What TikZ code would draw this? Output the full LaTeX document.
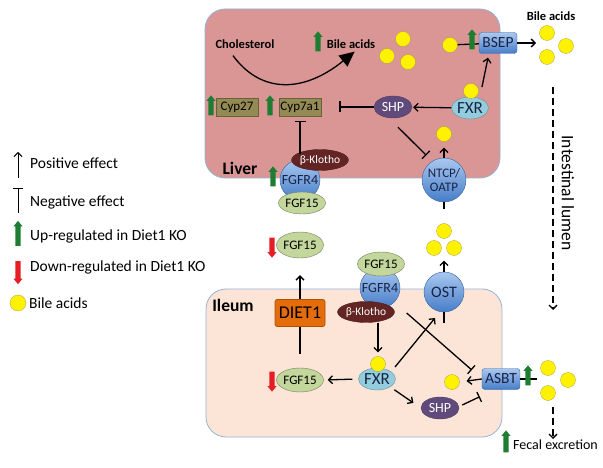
\documentclass[tikz,border=0pt]{standalone}
\usepackage{fontspec}
\setmainfont{Carlito}
\usetikzlibrary{shapes.geometric,shapes.arrows,arrows.meta}
\definecolor{liverc}{RGB}{217,150,148}
\definecolor{ileumc}{RGB}{252,229,214}
\definecolor{edgec}{RGB}{149,179,215}
\definecolor{cypc}{RGB}{148,138,84}
\definecolor{fxrc}{RGB}{147,205,221}
\definecolor{shpc}{RGB}{96,74,123}
\definecolor{klc}{RGB}{99,37,35}
\definecolor{fgfc}{RGB}{195,214,155}
\definecolor{dietc}{RGB}{228,108,10}
\definecolor{upc}{RGB}{30,125,50}
\definecolor{downc}{RGB}{228,30,36}
\definecolor{recc}{RGB}{70,125,200}
\definecolor{recl}{RGB}{170,200,240}
\definecolor{txtc}{RGB}{25,35,70}
\tikzset{
  organ/.style={draw=edgec, line width=0.8pt, rounded corners=20pt, inner sep=0pt},
  act/.style={-{Straight Barb[length=4pt,width=8pt]}, line width=1.3pt},
  inh/.style={-{Bar[width=11pt]}, line width=1.3pt},
  plain/.style={line width=1.3pt},
  lumen/.style={-{Straight Barb[length=4pt,width=8pt]}, line width=1.3pt, dash pattern=on 7pt off 4pt},
  uparr/.style={single arrow, shape border rotate=90, fill=upc, minimum height=20pt, inner sep=2.5pt, single arrow head extend=2pt, single arrow tip angle=80},
  downarr/.style={uparr, fill=downc, shape border rotate=270},
  bile/.style={circle, fill=yellow, draw=yellow!60!black, line width=0.3pt, minimum size=15pt, inner sep=0pt},
  rec/.style={circle, top color=recl, bottom color=recc, draw=recc!80!black, line width=0.4pt, inner sep=0pt, text=txtc, font=\fontsize{14}{15}\selectfont},
  recbox/.style={rectangle, rounded corners=3pt, top color=recl, bottom color=recc, draw=recc!80!black, line width=0.4pt, minimum width=38pt, minimum height=21pt, inner sep=0pt, text=txtc, font=\fontsize{15.5}{16}\selectfont},
  fxr/.style={ellipse, fill=fxrc, draw=fxrc!70!black, line width=0.4pt, minimum width=37pt, minimum height=22pt, inner sep=0pt, text=txtc, font=\fontsize{17}{18}\selectfont},
  shp/.style={ellipse, fill=shpc, draw=shpc!80!black, line width=0.4pt, minimum width=38pt, minimum height=22pt, inner sep=0pt, text=white, font=\fontsize{14}{15}\selectfont},
  kl/.style={ellipse, fill=klc, draw=klc!80!black, line width=0.4pt, minimum width=47pt, minimum height=21pt, inner sep=0pt, text=white, font=\fontsize{11.5}{12}\selectfont},
  fgf/.style={ellipse, fill=fgfc, draw=fgfc!60!black, line width=0.4pt, minimum width=41pt, minimum height=24pt, inner sep=0pt, font=\fontsize{13}{14}\selectfont},
  cyp/.style={rectangle, fill=cypc, draw=cypc!70!black, line width=0.4pt, minimum width=42pt, minimum height=18pt, inner sep=0pt, font=\fontsize{13}{14}\selectfont},
  dietbox/.style={rectangle, rounded corners=2pt, fill=dietc, draw=dietc!75!black, line width=0.6pt, minimum width=50pt, minimum height=27pt, inner sep=0pt, font=\fontsize{18}{19}\selectfont},
  lbl/.style={anchor=west, inner sep=0pt, font=\fontsize{15.5}{16}\selectfont},
  bold/.style={inner sep=0pt, font=\fontsize{12.5}{14}\selectfont\bfseries},
  organlbl/.style={inner sep=0pt, font=\fontsize{17.5}{18}\selectfont\bfseries}
}
\begin{document}
\begin{tikzpicture}[x=1pt,y=-1pt]
\useasboundingbox (0,0) rectangle (603,468);
\node[organ, fill=liverc, minimum width=295pt, minimum height=169pt] (liver) at (352.5,93.5) {};
\node[organ, fill=ileumc, minimum width=296pt, minimum height=148pt] (ileum) at (354,363) {};
\node[organlbl] at (240,168) {Liver};
\node[organlbl] at (233,305) {Ileum};

\node[bold] (chol) at (245,44) {Cholesterol};
\node[uparr] at (318,43) {};
\node[bold] (baL) at (351,44) {Bile acids};
\draw[line width=1.3pt, -{Triangle[length=15pt,width=14pt]}] ([shift={(-12,7)}]chol.south) .. controls (262,95) and (305,92) .. ([shift={(28,3)}]baL.south west);
\node[bile] (b1) at (403,39) {};
\node[bile] (b2) at (387,56) {};
\node[bile] (b3) at (408,62) {};

\node[bile] (b4) at (450,45) {};
\node[recbox] (bsep) at (498,43) {BSEP};
\draw[plain] (b4) -- (bsep);
\node[uparr] at (472,41) {};
\coordinate (bsepout) at (536,43);
\draw[act] (bsep.east) -- (bsepout);
\node[bile] (b5) at (547,33) {};
\node[bile] (b6) at (566,46) {};
\node[bile] (b7) at (547,57) {};
\node[bold] at (551,16) {Bile acids};

\node[fxr] (fxrL) at (470,108) {FXR};
\node[bile] (b8) at (471,91) {};
\draw[act] ([shift={(12,-21)}]fxrL.center) -- ([shift={(-10,4)}]bsep.south);
\node[shp] (shpL) at (393,107) {SHP};
\draw[act, shorten >=1pt] (fxrL) -- (shpL);
\node[cyp] (cyp7) at (300,107) {Cyp7a1};
\node[cyp] (cyp27) at (237,107) {Cyp27};
\node[uparr] at (270,107) {};
\node[uparr] at (211,107) {};
\draw[inh, shorten >=18pt] (shpL) -- (cyp7);

\node[rec, minimum size=44pt, align=center, font=\fontsize{13}{14}\selectfont] (ntcp) at (444,180) {NTCP/\\OATP};
\draw[inh] ([shift={(5,9)}]shpL.south) -- ([shift={(-2,-9)}]ntcp.135);
\node[bile] (b9) at (444,134) {};
\draw[act, shorten >=6pt] (ntcp) -- (b9);

\node[rec, minimum size=40pt] (fgfrL) at (300,180) {FGFR4};
\node[fgf, minimum height=22pt] (fgfL) at (302,203) {FGF15};
\node[kl] (klL) at (320,160) {β-Klotho};
\draw[inh, shorten <=6pt, shorten >=5pt] (fgfrL.north) -- (cyp7.south);
\node[uparr] at (273,178) {};

\node[fgf, minimum height=26pt] (fgfC) at (300,245) {FGF15};
\node[downarr] at (272,246) {};
\node[dietbox] (diet) at (300,313) {DIET1};
\draw[act, shorten >=17pt] (diet.north) -- (fgfC.south);
\node[fgf] (fgfI) at (300,380) {FGF15};
\node[downarr] at (272,380) {};
\draw[plain, shorten <=14pt] (fgfI.north) -- (diet.south);

\node[fxr] (fxrI) at (377,379) {FXR};
\node[bile] (b10) at (378,364) {};
\draw[act, shorten <=6pt, shorten >=4pt] (fxrI.west) -- (fgfI.east);
\node[rec, minimum size=40pt] (fgfrI) at (380,288) {FGFR4};
\node[fgf] (fgf4I) at (381,264) {FGF15};
\node[kl] (klI) at (366,312) {β-Klotho};
\draw[act, shorten >=4pt] ([shift={(12,0)}]klI.south) -- (b10.north);

\node[recbox] (asbt) at (501,379) {ASBT};
\node[rec, minimum size=40pt, font=\fontsize{16}{17}\selectfont] (ost) at (444,292) {OST};
\draw[inh] ([shift={(12,1)}]klI.east) -- ([shift={(-10,-9)}]asbt.west);
\draw[act] ([shift={(18,-12)}]fxrI.center) -- ([shift={(-9,26)}]ost.center);
\coordinate (oststub) at (444,323);
\draw[plain] (ost.south) -- (oststub);

\node[bile] (b11) at (444,231) {};
\node[bile] (b12) at (434,248) {};
\node[bile] (b13) at (454,248) {};
\draw[act, shorten >=22pt] (ost.north) -- (b11.south);
\draw[plain, shorten <=14pt] (b11.north) -- (ntcp.south);

\node[shp] (shpI) at (440,408) {SHP};
\draw[act, shorten <=5pt, shorten >=9pt] (fxrI.south east) -- (shpI.west);
\draw[inh] ([shift={(3,-3)}]shpI.east) -- ([shift={(-2,7)}]asbt.south west);
\node[bile] (b14) at (452,382) {};
\draw[act, shorten >=7pt] (asbt.west) -- (b14.east);

\node[bile] (b15) at (548,368) {};
\node[bile] (b16) at (568,380) {};
\node[bile] (b17) at (548,393) {};
\draw[plain, shorten >=3pt] (asbt.east) -- (asbt.east -| b15.west);
\node[uparr] at (528,377) {};

\coordinate (f1) at (553,407);
\coordinate (f2) at (553,439);
\draw[lumen] (f1) -- (f2);
\node[uparr, minimum height=22pt] at (506,443) {};
\node[lbl, font=\fontsize{14}{15}\selectfont] at (513,445) {Fecal excretion};

\coordinate (l1) at (553,87);
\coordinate (l2) at (553,310);
\draw[lumen] (l1) -- (l2);
\node[inner sep=0pt, rotate=-90, font=\fontsize{17.5}{18}\selectfont] at (568,193) {Intestinal lumen};

\coordinate (p1) at (18,178);
\coordinate (p2) at (18,152);
\draw[act, line width=1pt] (p1) -- (p2);
\coordinate (n1) at (18,213);
\coordinate (n2) at (18,188);
\draw[inh, line width=1pt, -{Bar[width=10pt]}] (n1) -- (n2);
\node[uparr, minimum height=25pt] at (18,235) {};
\node[downarr, minimum height=23pt] at (18,271) {};
\node[bile, minimum size=16pt] at (18,303) {};
\node[lbl] at (30,163) {Positive effect};
\node[lbl] at (30,202) {Negative effect};
\node[lbl] at (30,236) {Up-regulated in Diet1 KO};
\node[lbl] at (30,267) {Down-regulated in Diet1 KO};
\node[lbl] at (29,303) {Bile acids};
\end{tikzpicture}
\end{document}
